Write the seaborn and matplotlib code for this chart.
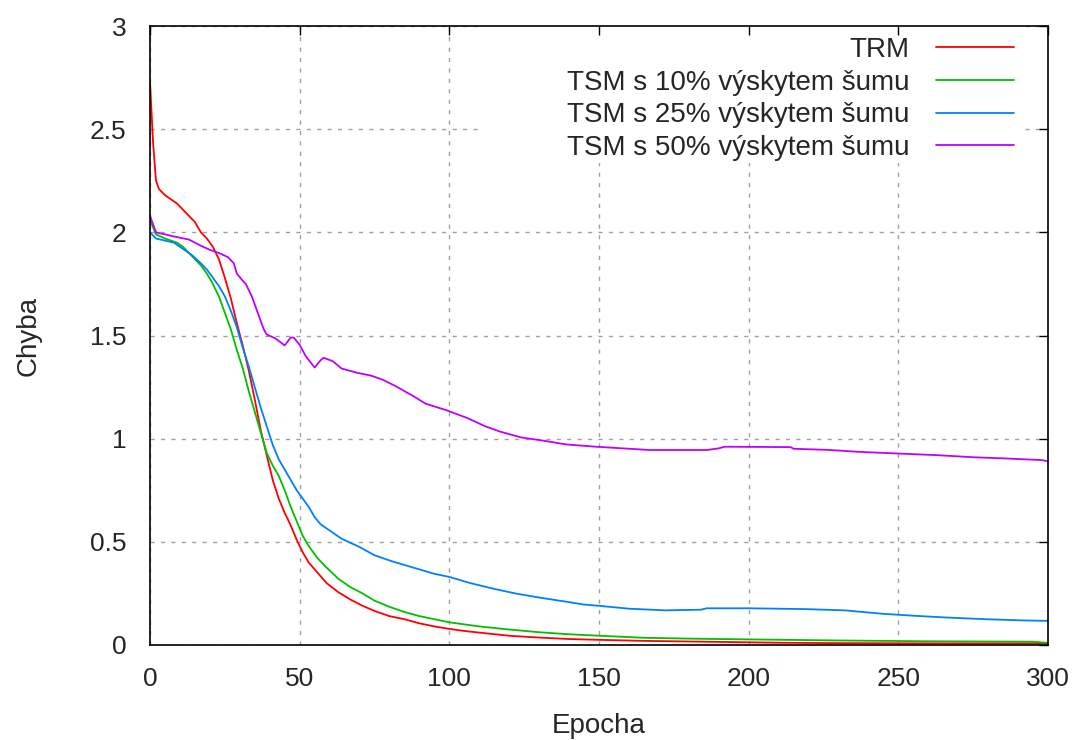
import numpy as np
import pandas as pd
import matplotlib
matplotlib.use("Agg")
import matplotlib.pyplot as plt
import seaborn as sns
from matplotlib.lines import Line2D
from matplotlib.patches import Rectangle

# ---------------- data ----------------
series_names = ["TRM", "TSM s 10% výskytem šumu", "TSM s 25% výskytem šumu", "TSM s 50% výskytem šumu"]
series_colors = ["#ff0000", "#00c000", "#0080ff", "#c000ff"]

trm_epoch = [0, 1, 2, 3, 5, 7, 9, 11, 13, 15, 17, 19, 21, 23, 25, 27, 29, 31, 33, 35, 37, 39, 41,
             43, 45, 47, 49, 51, 53, 56, 59, 63, 67, 71, 75, 80, 85, 90, 95, 100, 105, 110, 120,
             130, 140, 150, 165, 185, 210, 230, 260, 300]
trm_err = [2.73, 2.44, 2.25, 2.21, 2.18, 2.16, 2.14, 2.11, 2.08, 2.05, 2.00, 1.97, 1.93, 1.87, 1.78,
           1.68, 1.56, 1.45, 1.33, 1.19, 1.04, 0.92, 0.80, 0.71, 0.64, 0.58, 0.51, 0.45, 0.40, 0.35,
           0.30, 0.255, 0.22, 0.19, 0.165, 0.14, 0.125, 0.105, 0.09, 0.078, 0.068, 0.06, 0.045,
           0.036, 0.029, 0.025, 0.02, 0.016, 0.011, 0.009, 0.008, 0.008]

tsm10_epoch = [0, 2, 5, 9, 11, 13, 15, 17, 19, 21, 23, 25, 27, 29, 31, 33, 35, 37, 39, 41, 43, 45,
               47, 49, 51, 53, 56, 59, 63, 67, 71, 75, 80, 85, 90, 95, 100, 105, 110, 120, 130, 140,
               150, 165, 180, 195, 230, 260, 295, 300]
tsm10_err = [2.06, 1.99, 1.97, 1.95, 1.93, 1.90, 1.87, 1.84, 1.80, 1.75, 1.69, 1.61, 1.53, 1.43,
             1.34, 1.23, 1.13, 1.03, 0.93, 0.87, 0.82, 0.75, 0.67, 0.60, 0.53, 0.48, 0.42, 0.375,
             0.32, 0.28, 0.25, 0.215, 0.185, 0.16, 0.14, 0.125, 0.11, 0.10, 0.09, 0.075, 0.062,
             0.052, 0.045, 0.035, 0.031, 0.028, 0.022, 0.018, 0.016, 0.01]

tsm25_epoch = [0, 2, 5, 8, 11, 14, 17, 19, 21, 23, 25, 27, 29, 31, 33, 35, 37, 39, 41, 43, 45, 47,
               49, 51, 53, 55, 57, 60, 64, 70, 75, 81, 88, 95, 100, 107, 115, 122, 130, 139, 145,
               150, 160, 172, 184, 186, 200, 219, 232, 245, 255, 265, 279, 292, 300]
tsm25_err = [2.00, 1.97, 1.96, 1.95, 1.92, 1.89, 1.85, 1.82, 1.78, 1.74, 1.69, 1.62, 1.54, 1.44,
             1.35, 1.25, 1.15, 1.06, 0.97, 0.90, 0.85, 0.80, 0.75, 0.71, 0.67, 0.62, 0.585, 0.555,
             0.515, 0.475, 0.435, 0.405, 0.375, 0.345, 0.33, 0.30, 0.272, 0.25, 0.23, 0.21, 0.196,
             0.19, 0.176, 0.168, 0.171, 0.178, 0.178, 0.174, 0.168, 0.151, 0.142, 0.134, 0.125,
             0.119, 0.117]

tsm50_epoch = [0, 2, 5, 8, 13, 17, 20, 23, 26, 28, 29, 31, 32, 34, 36, 38, 39, 42, 45, 47, 48, 50,
               52, 55, 57, 58, 61, 64, 69, 74, 78, 82, 88, 92, 99, 106, 112, 117, 124, 132, 139,
               149, 158, 167, 186, 190, 192, 214, 215, 226, 237, 250, 263, 275, 286, 298, 300]
tsm50_err = [2.08, 2.00, 1.99, 1.98, 1.965, 1.935, 1.915, 1.90, 1.88, 1.85, 1.80, 1.765, 1.75,
             1.69, 1.61, 1.53, 1.505, 1.485, 1.452, 1.49, 1.49, 1.455, 1.40, 1.345, 1.38, 1.392,
             1.376, 1.34, 1.32, 1.305, 1.284, 1.255, 1.206, 1.17, 1.138, 1.10, 1.06, 1.034, 1.006,
             0.989, 0.972, 0.961, 0.953, 0.945, 0.945, 0.953, 0.961, 0.959, 0.951, 0.946, 0.936,
             0.928, 0.92, 0.91, 0.904, 0.896, 0.89]

x_ticks = [0, 50, 100, 150, 200, 250, 300]
x_tick_labels = ["0", "50", "100", "150", "200", "250", "300"]
y_ticks = [0, 0.5, 1, 1.5, 2, 2.5, 3]
y_tick_labels = ["0", "0.5", "1", "1.5", "2", "2.5", "3"]
x_label = "Epocha"
y_label = "Chyba"

# ---------------- build table ----------------
frames = []
for name, ep, er in zip(series_names,
                        [trm_epoch, tsm10_epoch, tsm25_epoch, tsm50_epoch],
                        [trm_err, tsm10_err, tsm25_err, tsm50_err]):
    frames.append(pd.DataFrame({"epoch": ep, "chyba": er, "series": name}))
df = pd.concat(frames, ignore_index=True)

# ---------------- style ----------------
sns.set_style("white")
plt.rcParams["font.family"] = ["Liberation Sans", "DejaVu Sans"]
FS_TICK = 19
FS_TEXT = 20
TXT = "#262626"

fig = plt.figure(figsize=(10.75, 7.4), dpi=100)
ax = fig.add_axes([150 / 1075, 1 - 645 / 740, 898 / 1075, 619 / 740])

# grid (drawn as separate lines so the key area can blank it)
for t in y_ticks:
    ax.axhline(t, color="#a0a0a0", lw=1.0, ls=(0, (3, 4.5)), zorder=0.5)
for t in x_ticks:
    ax.axvline(t, color="#a0a0a0", lw=1.0, ls=(0, (3, 4.5)), zorder=0.5)

# blank key area like gnuplot
ax.add_patch(Rectangle((330 / 898, 1 - 137 / 619), 545 / 898, 137 / 619,
                       transform=ax.transAxes, facecolor="white", edgecolor="none", zorder=0.7))

sns.lineplot(data=df, x="epoch", y="chyba", hue="series", hue_order=series_names,
             palette=series_colors, estimator=None, sort=False, linewidth=1.3,
             legend=False, ax=ax, zorder=2)

ax.set_xlim(0, 300)
ax.set_ylim(0, 3)
ax.set_xticks(x_ticks)
ax.set_xticklabels(x_tick_labels)
ax.set_yticks(y_ticks)
ax.set_yticklabels(y_tick_labels)
ax.tick_params(axis="both", direction="in", length=6.5, width=1.0, colors="black",
               labelcolor=TXT, labelsize=FS_TICK, top=True, right=True)
ax.tick_params(axis="x", pad=15.5)
ax.tick_params(axis="y", pad=17)
ax.set_axisbelow(False)
for s in ax.spines.values():
    s.set_color("black")
    s.set_linewidth(1.2)
    s.set_zorder(3)

ax.set_xlabel(x_label, fontsize=FS_TEXT, color=TXT)
ax.set_ylabel(y_label, fontsize=FS_TEXT, color=TXT)
ax.xaxis.set_label_coords(0.5, -0.110)
ax.yaxis.set_label_coords(-0.121, 0.5)

handles = [Line2D([0], [0], color=c, lw=1.3) for c in series_colors]
leg = ax.legend(handles, series_names, loc="upper right", bbox_to_anchor=(875 / 898, 1.0),
                markerfirst=False, frameon=False, handlelength=2.8, handletextpad=0.95,
                labelspacing=0.24, borderpad=0.4, borderaxespad=0, fontsize=FS_TEXT)
for t in leg.get_texts():
    t.set_color(TXT)
for vp in leg._legend_handle_box.get_children():
    vp.align = "right"
leg.set_zorder(5)

fig.savefig("out.png", dpi=100)
